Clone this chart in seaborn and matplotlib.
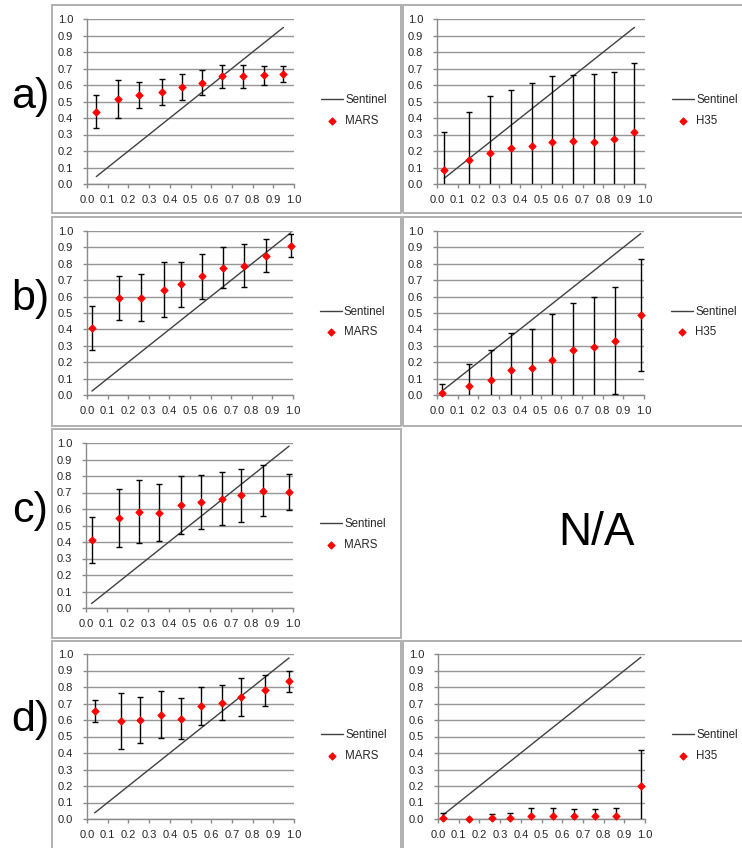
import seaborn as sns
import matplotlib.pyplot as plt
from matplotlib.patches import Rectangle

# a) MARS / H35
a_mars_x = [0.045, 0.152, 0.25, 0.361, 0.459, 0.554, 0.653, 0.754, 0.854, 0.949]
a_mars_y = [0.439, 0.518, 0.54, 0.557, 0.587, 0.613, 0.652, 0.652, 0.658, 0.666]
a_mars_err = [0.098, 0.115, 0.078, 0.081, 0.08, 0.075, 0.071, 0.071, 0.06, 0.048]

a_h35_x = [0.035, 0.152, 0.253, 0.357, 0.456, 0.555, 0.654, 0.757, 0.853, 0.949]
a_h35_y = [0.085, 0.146, 0.19, 0.217, 0.233, 0.257, 0.261, 0.257, 0.273, 0.318]
a_h35_err = [0.233, 0.291, 0.342, 0.354, 0.378, 0.397, 0.399, 0.409, 0.403, 0.415]

# b) MARS / H35
b_mars_x = [0.024, 0.153, 0.26, 0.373, 0.455, 0.556, 0.658, 0.763, 0.868, 0.989]
b_mars_y = [0.406, 0.592, 0.592, 0.641, 0.675, 0.724, 0.777, 0.789, 0.85, 0.911]
b_mars_err = [0.134, 0.132, 0.143, 0.167, 0.139, 0.137, 0.124, 0.132, 0.103, 0.068]

b_h35_x = [0.024, 0.153, 0.259, 0.357, 0.457, 0.557, 0.655, 0.758, 0.858, 0.984]
b_h35_y = [0.01, 0.057, 0.09, 0.153, 0.165, 0.214, 0.277, 0.293, 0.332, 0.489]
b_h35_err = [0.057, 0.132, 0.187, 0.224, 0.238, 0.277, 0.281, 0.304, 0.326, 0.342]

# c) MARS (H35 = N/A)
c_mars_x = [0.027, 0.161, 0.256, 0.355, 0.46, 0.556, 0.659, 0.751, 0.854, 0.981]
c_mars_y = [0.41, 0.545, 0.584, 0.578, 0.622, 0.644, 0.663, 0.683, 0.711, 0.701]
c_mars_err = [0.14, 0.175, 0.19, 0.172, 0.175, 0.165, 0.161, 0.161, 0.153, 0.11]

# d) MARS / H35
d_mars_x = [0.037, 0.164, 0.258, 0.356, 0.456, 0.552, 0.653, 0.746, 0.862, 0.976]
d_mars_y = [0.654, 0.593, 0.599, 0.632, 0.609, 0.684, 0.704, 0.739, 0.781, 0.836]
d_mars_err = [0.067, 0.171, 0.141, 0.143, 0.123, 0.116, 0.107, 0.115, 0.094, 0.064]

d_h35_x = [0.024, 0.15, 0.26, 0.35, 0.45, 0.556, 0.657, 0.758, 0.86, 0.98]
d_h35_y = [0.008, 0.0, 0.008, 0.008, 0.018, 0.018, 0.018, 0.018, 0.018, 0.2]
d_h35_err = [0.026, 0.0, 0.02, 0.028, 0.051, 0.051, 0.045, 0.045, 0.051, 0.219]

ticks = [0.0, 0.1, 0.2, 0.3, 0.4, 0.5, 0.6, 0.7, 0.8, 0.9, 1.0]
tick_labels = [f'{t:.1f}' for t in ticks]

W, H = 742, 848
FONT = ['Liberation Sans', 'DejaVu Sans']

sns.set_theme(style='white')
plt.rcParams['font.family'] = FONT


def px_rect(x0, y0, x1, y1):
    # pixel box (top-left origin) -> figure fraction
    return [x0 / W, 1 - y1 / H, (x1 - x0) / W, (y1 - y0) / H]


def plot_panel(fig, box, x, y, err, name):
    ax = fig.add_axes(px_rect(*box))
    ax.errorbar(x, y, yerr=err, fmt='none', ecolor='black', elinewidth=1,
                capsize=2.5, capthick=1, zorder=3)
    # Sentinel = 1:1 line over the range of the bins
    sns.lineplot(x=[x[0], x[-1]], y=[x[0], x[-1]], ax=ax, color='#404040',
                 lw=1, label='Sentinel', zorder=2)
    sns.scatterplot(x=x, y=y, ax=ax, marker='D', color='#ff0000', s=13,
                    edgecolor='#ff0000', linewidth=0.8, label=name,
                    zorder=4, clip_on=False)
    ax.set_xlim(0, 1)
    ax.set_ylim(0, 1)
    ax.set_xticks(ticks)
    ax.set_yticks(ticks)
    ax.set_xticklabels(tick_labels)
    ax.set_yticklabels(tick_labels)
    ax.set_xlabel('')
    ax.set_ylabel('')
    ax.yaxis.grid(True, color='#969696', lw=1)
    ax.xaxis.grid(False)
    ax.set_axisbelow(True)
    for side in ['top', 'right']:
        ax.spines[side].set_visible(False)
    for side in ['left', 'bottom']:
        ax.spines[side].set_color('#8a8a8a')
        ax.spines[side].set_linewidth(1)
    ax.tick_params(axis='both', direction='out', length=3, width=1,
                   color='#8a8a8a', labelsize=8, labelcolor='#262626')
    ax.tick_params(axis='y', pad=7, left=True)
    ax.tick_params(axis='x', pad=5, bottom=True)
    ax.legend(loc='center left', bbox_to_anchor=(1.13, 0.445), frameon=False,
              handlelength=1.9, handletextpad=0.2, labelspacing=0.75,
              borderpad=0, borderaxespad=0, fontsize=8.3,
              labelcolor='#262626')
    return ax


fig = plt.figure(figsize=(W / 100, H / 100), dpi=100)

# panel frames
frames = [(52, 5, 401, 213), (403, 5, 745, 213),
          (52, 217, 401, 426), (403, 217, 745, 426),
          (52, 429, 401, 638),
          (52, 641, 401, 851), (403, 641, 745, 851)]
for x0, y0, x1, y1 in frames:
    r = px_rect(x0, y0, x1, y1)
    fig.add_artist(Rectangle((r[0], r[1]), r[2], r[3], transform=fig.transFigure,
                             fill=False, edgecolor='#b0b0b0', lw=1.4))

plot_panel(fig, (87, 19, 294, 184), a_mars_x, a_mars_y, a_mars_err, 'MARS')
plot_panel(fig, (437, 19, 645, 184), a_h35_x, a_h35_y, a_h35_err, 'H35')
plot_panel(fig, (87, 231, 293, 395), b_mars_x, b_mars_y, b_mars_err, 'MARS')
plot_panel(fig, (437, 231, 644, 395), b_h35_x, b_h35_y, b_h35_err, 'H35')
plot_panel(fig, (86, 443, 293, 608), c_mars_x, c_mars_y, c_mars_err, 'MARS')
plot_panel(fig, (87, 654, 294, 819), d_mars_x, d_mars_y, d_mars_err, 'MARS')
plot_panel(fig, (438, 654, 645, 819), d_h35_x, d_h35_y, d_h35_err, 'H35')

# row labels and the missing panel
for lab, yc in [('a)', 97), ('b)', 299), ('c)', 511), ('d)', 720)]:
    fig.text(30 / W, 1 - yc / H, lab, fontsize=31, ha='center', va='center',
             color='black')
fig.text(597 / W, 1 - 533 / H, 'N/A', fontsize=33, ha='center', va='center',
         color='black')

fig.savefig('out.png', dpi=100)
